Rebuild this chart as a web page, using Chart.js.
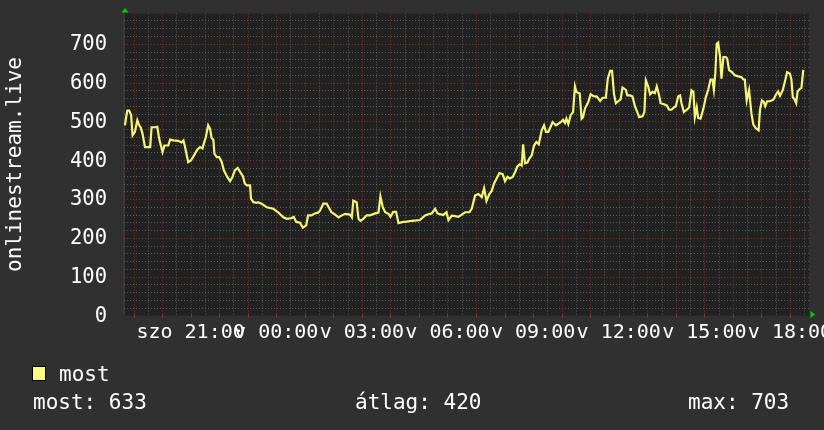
<!DOCTYPE html>
<html><head><meta charset="utf-8">
<script src="https://cdn.jsdelivr.net/npm/chart.js@4/dist/chart.umd.min.js"></script>
<style>html,body{margin:0;padding:0;background:#2f2f2f;overflow:hidden}</style>
</head><body>
<canvas id="c" width="824" height="430"></canvas>
<script>
// minutes relative to Sunday 00:00 (negative = Saturday evening)
const sampleMinutes = [-318,-316,-313,-309,-305,-302,-297,-292,-288,-285,-281,-276,-265,-262,-255,-250,-246,-239,-235,-227,-223,-216,-206,-199,-195,-192,-185,-179,-174,-166,-160,-155,-152,-148,-143,-139,-136,-132,-130,-125,-120,-115,-110,-103,-97,-92,-87,-81,-76,-70,-66,-62,-55,-53,-48,-41,-38,-31,-20,-6,4,15,22,32,37,42,50,56,63,67,74,81,88,92,99,106,112,116,124,131,138,145,155,159,162,169,173,177,183,190,197,208,215,219,224,229,236,240,246,252,257,267,274,285,295,302,313,320,327,334,339,344,351,358,362,369,376,383,390,397,406,411,418,425,432,437,442,448,453,458,463,469,476,481,486,491,497,502,507,512,516,519,523,528,532,537,542,547,552,558,563,567,572,577,581,588,593,598,603,607,610,614,619,624,628,631,638,642,645,649,656,661,667,674,681,686,693,697,702,706,710,714,719,724,728,735,738,744,749,754,759,763,770,774,777,782,786,791,796,800,805,808,815,821,826,831,836,840,845,849,852,857,863,868,873,877,880,884,887,892,898,903,908,913,917,920,923,926,929,933,936,940,945,948,952,957,964,971,978,982,985,989,994,999,1003,1008,1014,1017,1021,1025,1028,1032,1038,1045,1051,1055,1059,1065,1070,1074,1080,1083,1086,1089,1093,1096,1101,1104,1108];
const visitors = [490,507,528,528,516,464,473,503,490,485,468,434,434,485,485,486,455,421,438,438,453,451,450,446,451,436,395,400,410,427,434,430,444,459,490,481,458,452,417,408,408,397,374,357,346,357,374,380,370,359,340,335,335,301,292,290,292,288,279,275,266,253,249,251,254,241,239,226,232,258,258,263,265,270,288,288,275,266,260,253,258,262,260,253,296,292,249,244,249,258,258,263,265,307,279,266,262,254,267,267,238,241,242,244,245,246,258,261,263,275,263,261,259,266,246,257,256,254,260,266,266,275,309,313,305,328,295,313,321,340,352,367,364,346,357,353,357,369,384,390,386,441,392,394,404,412,438,447,441,477,490,473,473,487,498,490,494,498,504,496,507,493,516,524,590,576,572,507,511,533,550,570,565,564,553,561,561,610,630,630,571,547,552,557,587,581,567,567,564,539,524,511,513,524,606,590,570,576,573,590,567,547,544,541,530,530,536,539,564,567,547,524,530,536,580,576,511,536,509,507,533,562,581,608,608,581,623,700,703,666,610,666,666,662,632,628,619,616,614,608,608,554,581,520,492,483,477,530,554,550,539,552,552,556,570,577,566,581,606,627,623,608,562,558,547,577,584,586,633];

const xRange = [-320, 1120];
const yRange = [0, 778];
const xLabelMinutes = [-180, 0, 180, 360, 540, 720, 900, 1080];
const xLabelTexts = ["szo 21:00", "v 00:00", "v 03:00", "v 06:00", "v 09:00", "v 12:00", "v 15:00", "v 18:00"];
const yLabelValues = [0, 100, 200, 300, 400, 500, 600, 700];
const axisTitle = "onlinestream.live";
const seriesName = "most";
const statTexts = ["most: 633", "átlag: 420", "max: 703"];

// grid spacing (x in minutes, y in units)
const xMinorStep = 30, xMajorStep = 60;
const yMinorStep = 20, yMajorStep = 100;

const FONT = "'DejaVu Sans Mono', monospace";
const RED = 'rgba(150,52,52,0.8)';
const GREY = 'rgba(115,115,115,0.7)';
const LINE = '#f5f575';
const BOX = '#ffff80';

const bgPlugin = {
  id: 'bg',
  beforeDraw(chart) {
    const {ctx, chartArea: a} = chart;
    ctx.save();
    ctx.fillStyle = '#303030';
    ctx.fillRect(0, 0, chart.width, chart.height);
    ctx.fillStyle = '#212121';
    ctx.fillRect(a.left, a.top, a.right - a.left, a.bottom - a.top);
    ctx.fillStyle = '#383838';
    ctx.fillRect(a.left - 1, a.top, 2, a.bottom - a.top);
    ctx.restore();
  },
  beforeDatasetsDraw(chart) {
    const {ctx, chartArea: a, scales: {x, y}} = chart;
    ctx.save();
    ctx.lineWidth = 1;
    ctx.setLineDash([1, 2]);
    const vline = (v, color) => {
      const px = Math.round(x.getPixelForValue(v)) + 0.5;
      ctx.strokeStyle = color;
      ctx.beginPath(); ctx.moveTo(px, a.top); ctx.lineTo(px, a.bottom); ctx.stroke();
    };
    const hline = (v, color) => {
      const py = Math.round(y.getPixelForValue(v)) + 0.5;
      ctx.strokeStyle = color;
      ctx.beginPath(); ctx.moveTo(a.left, py); ctx.lineTo(a.right, py); ctx.stroke();
    };
    const x0 = Math.ceil(xRange[0] / xMinorStep) * xMinorStep;
    for (let v = x0; v < xRange[1]; v += xMinorStep) if (v % xMajorStep !== 0) vline(v, GREY);
    for (let v = yRange[0] + yMinorStep; v < yRange[1]; v += yMinorStep) if (v % yMajorStep !== 0) hline(v, GREY);
    for (let v = x0; v < xRange[1]; v += xMinorStep) if (v % xMajorStep === 0) vline(v, RED);
    for (let v = yRange[0] + yMajorStep; v < yRange[1]; v += yMajorStep) hline(v, RED);
    // tick marks below the plot
    ctx.setLineDash([]);
    ctx.strokeStyle = RED;
    for (let v = x0; v < xRange[1]; v += xMinorStep) {
      if (v % xMajorStep !== 0) continue;
      const px = Math.round(x.getPixelForValue(v)) + 0.5;
      ctx.beginPath(); ctx.moveTo(px, a.bottom - 2); ctx.lineTo(px, a.bottom + 2); ctx.stroke();
    }
    ctx.restore();
  }
};

const extrasPlugin = {
  id: 'extras',
  afterDraw(chart) {
    const {ctx, chartArea: a} = chart;
    const y0 = chart.scales.y.getPixelForValue(0);
    ctx.save();
    ctx.fillStyle = '#00cc00';
    ctx.beginPath();
    ctx.moveTo(a.left + 1, a.top - 5.5);
    ctx.lineTo(a.left - 2.5, a.top - 1);
    ctx.lineTo(a.left + 4.5, a.top - 1);
    ctx.closePath();
    ctx.fill();
    ctx.beginPath();
    ctx.moveTo(a.right + 6, y0 - 1);
    ctx.lineTo(a.right + 1.5, y0 - 4.5);
    ctx.lineTo(a.right + 1.5, y0 + 2.5);
    ctx.closePath();
    ctx.fill();

    // legend
    ctx.fillStyle = BOX;
    ctx.fillRect(32, 366, 14, 15);
    ctx.strokeStyle = '#000';
    ctx.lineWidth = 1;
    ctx.strokeRect(32.5, 366.5, 13, 14);
    ctx.fillStyle = '#ffffff';
    ctx.font = "21px " + FONT;
    ctx.textBaseline = 'alphabetic';
    ctx.textAlign = 'left';
    ctx.fillText(seriesName, 59, 381);
    ctx.fillText(statTexts[0], 33, 409);
    ctx.fillText(statTexts[1], 355, 409);
    ctx.fillText(statTexts[2], 688, 409);
    ctx.restore();
  }
};

new Chart(document.getElementById('c').getContext('2d'), {
  type: 'line',
  data: {
    datasets: [{
      label: seriesName,
      data: sampleMinutes.map((m, i) => ({x: m, y: visitors[i]})),
      borderColor: LINE,
      borderWidth: 2.2,
      pointRadius: 0,
      tension: 0,
      fill: false
    }]
  },
  options: {
    responsive: false,
    animation: false,
    devicePixelRatio: 1,
    layout: {padding: {top: 13.5, right: 15, left: 0, bottom: 0}},
    plugins: {legend: {display: false}, tooltip: {enabled: false}},
    scales: {
      x: {
        type: 'linear',
        min: xRange[0],
        max: xRange[1],
        afterBuildTicks: s => { s.ticks = xLabelMinutes.map(v => ({value: v})); },
        afterFit: s => { s.height = 114.5; s.paddingLeft = 0; s.paddingRight = 0; },
        grid: {display: false, drawTicks: false},
        border: {display: false},
        ticks: {
          autoSkip: false, maxRotation: 0, minRotation: 0, padding: 5,
          color: '#ffffff', font: {family: FONT, size: 20},
          callback: v => { const i = xLabelMinutes.indexOf(v); return i >= 0 ? xLabelTexts[i] : ''; }
        }
      },
      y: {
        min: yRange[0],
        max: yRange[1],
        afterBuildTicks: s => { s.ticks = yLabelValues.map(v => ({value: v})); },
        afterFit: s => { s.width = 124; s.paddingTop = 0; s.paddingBottom = 0; },
        grid: {display: false, drawTicks: false},
        border: {display: false},
        ticks: {
          autoSkip: false, padding: 17, labelOffset: 1,
          color: '#ffffff', font: {family: FONT, size: 20.5},
          callback: v => String(v)
        },
        title: {
          display: true, text: axisTitle, color: '#ffffff',
          font: {family: FONT, size: 21}, padding: {top: 3, bottom: 0}
        }
      }
    }
  },
  plugins: [bgPlugin, extrasPlugin]
});
</script>
</body></html>
